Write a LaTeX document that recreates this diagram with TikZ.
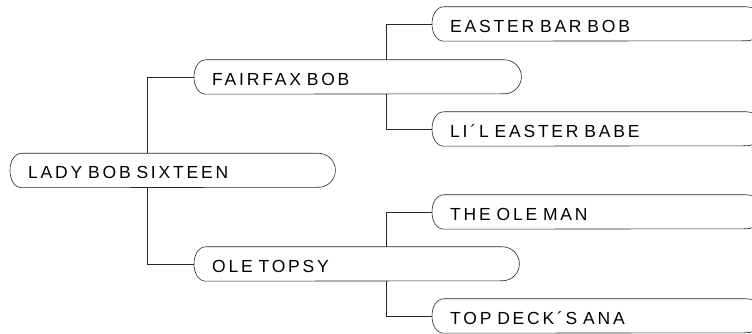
\documentclass[tikz,border=0pt]{standalone}
\usepackage{fontspec}
\setmainfont{Liberation Sans}[LetterSpace=16]
\newcommand{\horsefont}{\fontsize{17.5}{19}\selectfont\setlength{\spaceskip}{9pt}}

\tikzset{
  horse/.style={anchor=west,inner xsep=18pt,inner ysep=0pt,minimum height=34pt,
    text height=16.5pt,text depth=0pt,align=left,font=\horsefont},
  line/.style={line width=0.6pt,black!85}
}

\begin{document}
\begin{tikzpicture}[x=1pt,y=1pt,>=latex]
\useasboundingbox (0,0) rectangle (752,334);
\clip (0,0) rectangle (752,334);

\node[horse,text width=289pt] (lady) at (10,163.5) {LADY BOB SIXTEEN};
\node[horse,text width=291pt] (fairfax) at (194,257) {FAIRFAX BOB};
\node[horse,text width=289pt] (topsy) at (194,70) {OLE TOPSY};
\node[horse,text width=295pt] (easter) at (432,310) {EASTER BAR BOB};
\node[horse,text width=295pt] (lil) at (432,205) {LI´L EASTER BABE};
\node[horse,text width=295pt] (oleman) at (432,122) {THE OLE MAN};
\node[horse,text width=295pt] (topdeck) at (432,18) {TOP DECK´S ANA};

\foreach \n in {lady,fairfax,topsy,easter,lil,oleman,topdeck}
  \draw[line]([xshift=12pt]\n.south west) .. controls +(-16pt,0) and +(-16pt,0) .. ([xshift=12pt]\n.north west)
    --([xshift=-17pt]\n.north east) arc(90:-90:17pt) -- cycle;

\draw[line](fairfax.west) -| ([xshift=137pt]lady.north west);
\draw[line](topsy.west) -| ([xshift=137pt]lady.south west);
\draw[line](easter.west) -| ([xshift=192pt]fairfax.north west);
\draw[line](lil.west) -| ([xshift=192pt]fairfax.south west);
\draw[line](oleman.west) -| ([xshift=192pt]topsy.north west);
\draw[line](topdeck.west) -| ([xshift=192pt]topsy.south west);

\end{tikzpicture}
\end{document}
